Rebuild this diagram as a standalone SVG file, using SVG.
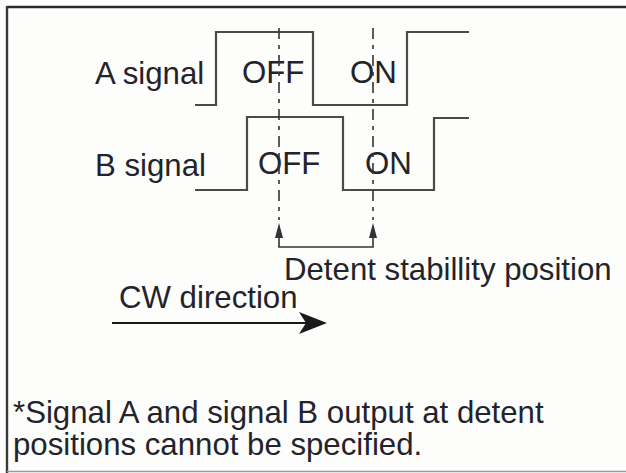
<svg xmlns="http://www.w3.org/2000/svg" width="626" height="473" viewBox="0 0 626 473">
<style>
text{font-family:"Liberation Sans",Arial,sans-serif;font-size:31.2px;fill:#23232b}
.wave{fill:none;stroke:#4a4a4a;stroke-width:2.2;stroke-linejoin:miter}
.dash{fill:none;stroke:#333;stroke-width:1.6;stroke-dasharray:11 6 4 6}
.solid{fill:none;stroke:#333;stroke-width:1.6}
.head{fill:#333}
</style>
<rect x="0" y="0" width="626" height="473" fill="#ffffff"/>
<rect x="7" y="7" width="619" height="465" fill="#fdfdfb"/>
<g id="frame">
<line x1="7" y1="7" x2="626" y2="7" stroke="#2a2a2a" stroke-width="2.4"/>
<line x1="7" y1="6" x2="7" y2="473" stroke="#3a3a3a" stroke-width="2.4"/>
<line x1="7" y1="471.5" x2="626" y2="471.5" stroke="#9a9a9a" stroke-width="1.4"/>
</g>
<g id="signal-a">
<text x="95" y="84">A signal</text>
<polyline class="wave" points="195,105 216,105 216,32 313,32 313,105 407,105 407,32 469,32"/>
<text x="242" y="83">OFF</text>
<text x="350" y="83">ON</text>
</g>
<g id="signal-b">
<text x="95" y="176">B signal</text>
<polyline class="wave" points="195,190 247,190 247,117 343,117 343,190 434,190 434,118 469,118"/>
<text x="258" y="174">OFF</text>
<text x="365" y="174">ON</text>
</g>
<g id="connectors">
<line class="dash" x1="279" y1="28" x2="279" y2="220"/>
<line class="dash" x1="373" y1="28" x2="373" y2="220"/>
<path class="solid" d="M279,237 L279,247 L373,247 L373,237"/>
<path class="head" d="M279,223 L275,238 L283,238 z"/>
<path class="head" d="M373,223 L369,238 L377,238 z"/>
<line x1="112" y1="323" x2="306" y2="323" stroke="#1a1a1a" stroke-width="2.2"/>
<path d="M327,323 L299,312 L306,323 L299,334 z" fill="#1a1a1a"/>
</g>
<g id="labels">
<text x="284" y="280">Detent stabillity position</text>
<text x="119" y="308">CW direction</text>
<text x="13" y="423">*Signal A and signal B output at detent</text>
<text x="13" y="455">positions cannot be specified.</text>
</g>
</svg>
